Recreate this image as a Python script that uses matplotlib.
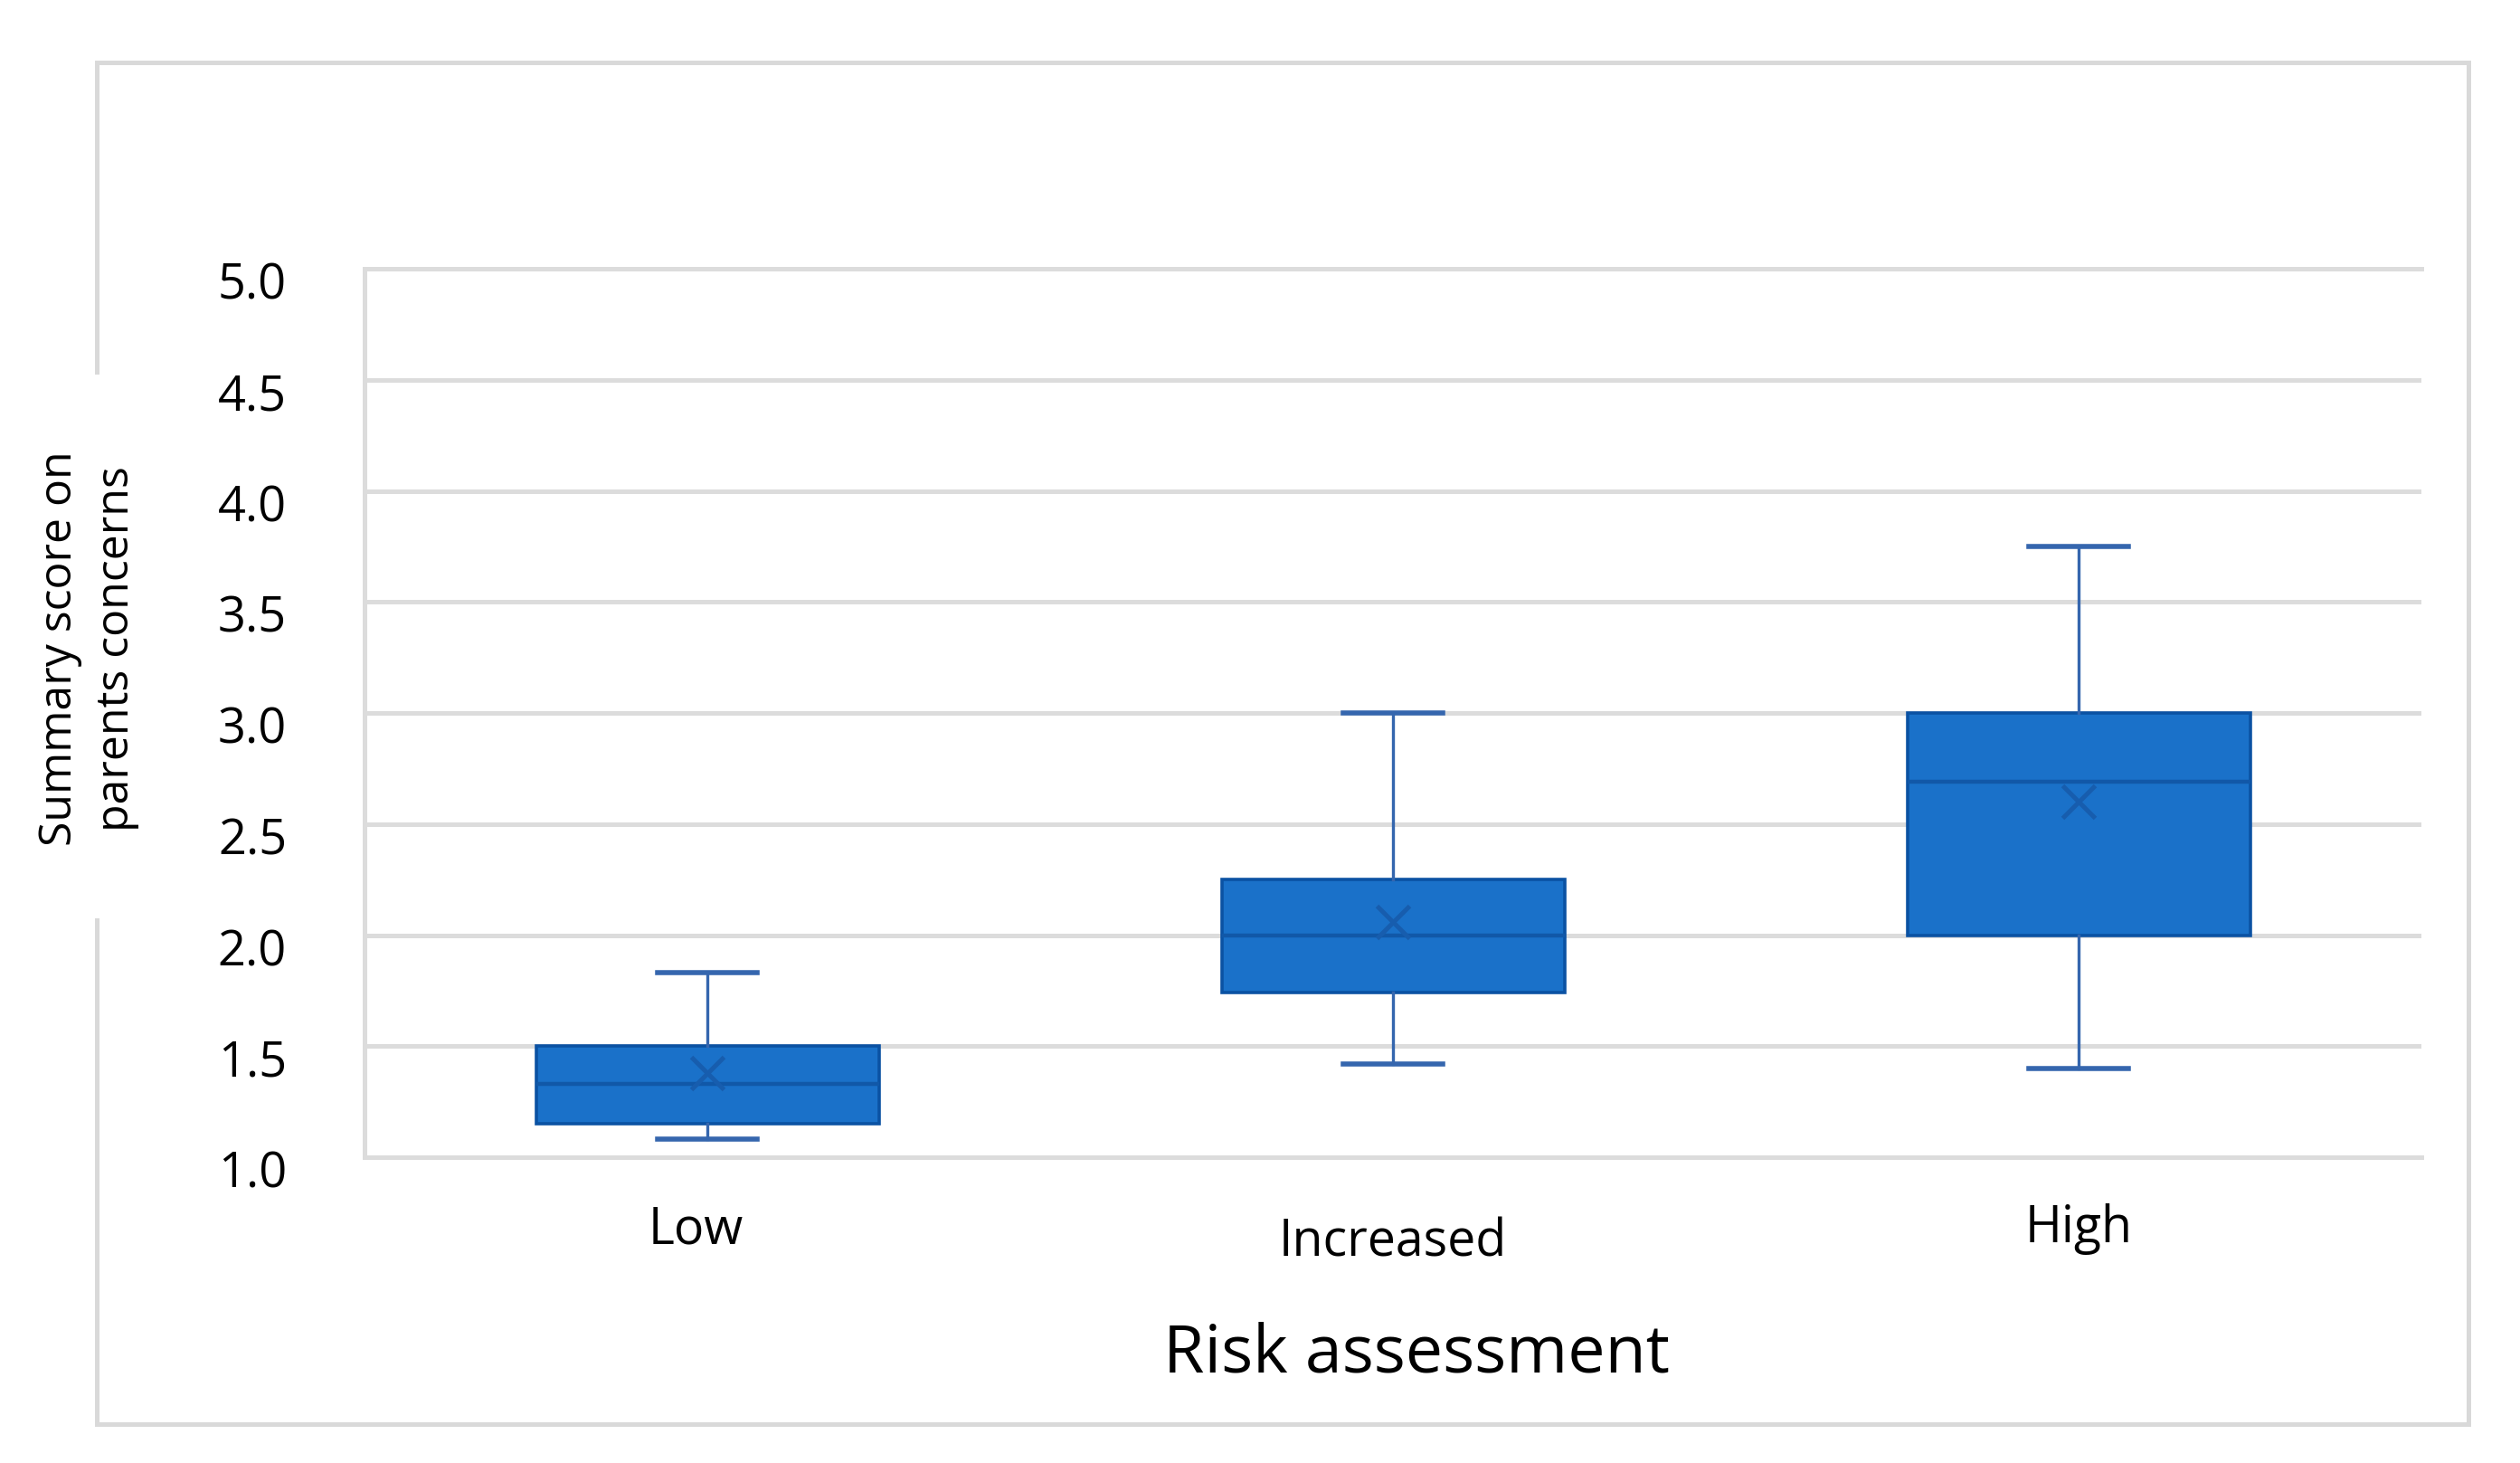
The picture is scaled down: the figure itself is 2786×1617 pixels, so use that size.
import matplotlib
matplotlib.use("Agg")
import matplotlib.pyplot as plt
import matplotlib.transforms as mtransforms
from matplotlib.lines import Line2D

plt.rcParams['font.family'] = ['Open Sans', 'DejaVu Sans']

# ---- data ----
categories = ['Low', 'Increased', 'High']
q1 = [1.15, 1.74, 2.00]
median = [1.33, 2.00, 2.69]
q3 = [1.50, 2.25, 3.00]
whisker_low = [1.08, 1.42, 1.40]
whisker_high = [1.83, 3.00, 3.75]
means = [1.38, 2.06, 2.60]
yticks = [1.0, 1.5, 2.0, 2.5, 3.0, 3.5, 4.0, 4.5, 5.0]
xlabel = 'Risk assessment'
ylabel = 'Summary score on\nparents concerns'

# ---- style ----
FILL = '#1A71C9'
EDGE = '#0B52A3'
WHISK = '#3566AE'
GRID = '#DCDCDC'

fig = plt.figure(figsize=(13.93, 8.085), dpi=200)
ax = fig.add_axes([0.1447, 0.2090, 0.9609 - 0.1447, 0.8163 - 0.2090])

stats = []
for i in range(len(categories)):
    stats.append(dict(label=categories[i], med=median[i], q1=q1[i], q3=q3[i],
                      whislo=whisker_low[i], whishi=whisker_high[i],
                      mean=means[i], fliers=[]))

ax.bxp(stats, positions=range(len(categories)), widths=0.5, capwidths=0.145,
       patch_artist=True, showmeans=True, showfliers=False,
       boxprops=dict(facecolor=FILL, edgecolor=EDGE, linewidth=1.3),
       medianprops=dict(color='#1158A8', linewidth=1.6),
       whiskerprops=dict(color=WHISK, linewidth=1.2),
       capprops=dict(color=WHISK, linewidth=2.0),
       meanprops=dict(marker='x', markeredgecolor='#175DAE', markersize=13,
                      markeredgewidth=1.8), zorder=3)

ax.set_xlim(-0.5, len(categories) - 0.5)
ax.set_ylim(yticks[0], yticks[-1])
ax.set_yticks(yticks)
ax.set_yticklabels([f'{v:.1f}' for v in yticks], fontsize=19.5)
ax.tick_params(axis='y', length=0, pad=31)
shift = mtransforms.ScaledTranslation(0, -4.5 / 72, fig.dpi_scale_trans)
for lab in ax.get_yticklabels():
    lab.set_transform(lab.get_transform() + shift)
ax.set_xticks([])
ax.yaxis.grid(True, color=GRID, linewidth=1.8)
ax.set_axisbelow(True)
for s in ['top', 'bottom', 'left']:
    ax.spines[s].set_color(GRID)
    ax.spines[s].set_linewidth(1.8)
ax.spines['right'].set_visible(False)

# category labels (uneven vertical placement as in the original)
label_y = [0.159, 0.150, 0.160]
label_dx = [-0.017, 0.0, 0.0]
btrans = mtransforms.blended_transform_factory(ax.transData, fig.transFigure)
for i, c in enumerate(categories):
    ax.text(i + label_dx[i], label_y[i], c, transform=btrans,
            ha='center', va='center', fontsize=20)

fig.text(0.562, 0.074, xlabel, ha='center', va='center', fontsize=26.5)
fig.text(0.035, 0.5566, ylabel, ha='center', va='center', rotation=90,
         fontsize=18, linespacing=1.35)

# outer frame with gap around y-label
FL, FR, FB, FT = 0.0385, 0.9796, 0.0266, 0.9573
for xs, ys in [([FL, FR], [FT, FT]), ([FR, FR], [FB, FT]), ([FL, FR], [FB, FB]),
               ([FL, FL], [0.746, FT]), ([FL, FL], [FB, 0.371])]:
    fig.add_artist(Line2D(xs, ys, transform=fig.transFigure, color='#D9D9D9',
                          linewidth=1.8))

fig.savefig('out.png', dpi=200)
